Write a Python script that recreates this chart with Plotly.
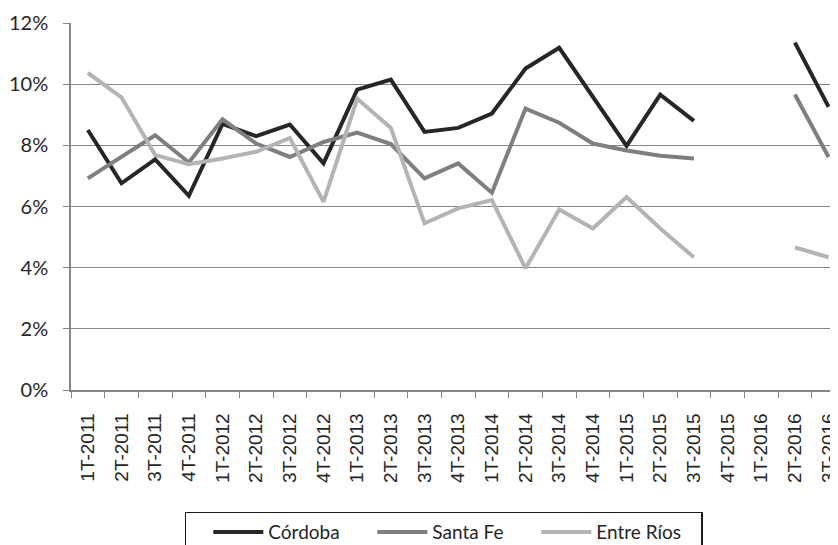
import plotly.graph_objects as go

categories = ["1T-2011", "2T-2011", "3T-2011", "4T-2011",
              "1T-2012", "2T-2012", "3T-2012", "4T-2012",
              "1T-2013", "2T-2013", "3T-2013", "4T-2013",
              "1T-2014", "2T-2014", "3T-2014", "4T-2014",
              "1T-2015", "2T-2015", "3T-2015", "4T-2015",
              "1T-2016", "2T-2016", "3T-2016"]

cordoba = [8.50, 6.76, 7.54, 6.35, 8.70, 8.30, 8.68, 7.41,
           9.82, 10.15, 8.44, 8.57, 9.04, 10.51, 11.19, 9.58,
           7.98, 9.66, 8.80, None, None, 11.36, 9.26]

santa_fe = [6.92, 7.62, 8.33, 7.44, 8.85, 8.06, 7.62, 8.11,
            8.42, 8.04, 6.92, 7.41, 6.45, 9.20, 8.74, 8.06,
            7.83, 7.66, 7.57, None, None, 9.66, 7.62]

entre_rios = [10.37, 9.57, 7.68, 7.38, 7.57, 7.79, 8.24, 6.15,
              9.52, 8.57, 5.45, 5.94, 6.21, 3.98, 5.90, 5.28,
              6.31, 5.28, 4.34, None, None, 4.66, 4.34]

y_ticks = [0, 2, 4, 6, 8, 10, 12]
y_tick_labels = ["0%", "2%", "4%", "6%", "8%", "10%", "12%"]

series = [("Córdoba", cordoba, "#262626"),
          ("Santa Fe", santa_fe, "#7f7f81"),
          ("Entre Ríos", entre_rios, "#b3b4b7")]

fig = go.Figure()
for name, vals, color in series:
    fig.add_trace(go.Scatter(
        x=categories, y=vals, name=name, mode="lines",
        line=dict(color=color, width=4), connectgaps=False))

# the page body adds an 8px margin, so the figure is sized to fill the rest
fig.update_layout(
    width=830, height=537,
    margin=dict(l=63, r=0, t=15, b=155, autoexpand=False),
    paper_bgcolor="white", plot_bgcolor="white",
    showlegend=True,
    legend=dict(orientation="h", x=0.148, xanchor="left",
                y=-0.3316, yanchor="top",
                bordercolor="#1a1a1a", borderwidth=1.5,
                font=dict(family="Lato, Liberation Sans", size=19, color="#262626"),
                title=dict(text="\u00a0\u00a0\u00a0\u00a0", side="left",
                           font=dict(family="Lato", size=12)),
                entrywidth=99, itemwidth=50, traceorder="normal"),
    font=dict(family="Liberation Sans, Arial", color="#262626"),
)

fig.update_xaxes(
    type="category", categoryorder="array", categoryarray=categories,
    range=[-0.5, 22.28], automargin=False,
    tickangle=-90, tickfont=dict(family="Liberation Sans, Arial", size=19, color="#262626"),
    ticks="outside", ticklen=6, tickwidth=1.3, tickcolor="#868686",
    tickson="boundaries", ticklabelstandoff=14,
    showline=True, linecolor="#868686", linewidth=1.5,
    showgrid=False, zeroline=False,
)

fig.update_yaxes(
    range=[0, 12], tickvals=y_ticks, ticktext=y_tick_labels, automargin=False,
    tickfont=dict(family="Lato, Liberation Sans", size=20, color="#262626"),
    ticks="outside", ticklen=6, tickwidth=1.3, tickcolor="#868686",
    ticklabelstandoff=11,
    showline=True, linecolor="#868686", linewidth=1.5,
    showgrid=True, gridcolor="#878787", gridwidth=1.3,
    zeroline=False,
)

fig.write_html("out.html")
